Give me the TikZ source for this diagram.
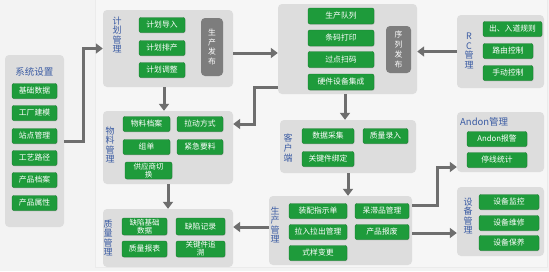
\documentclass[tikz,border=0pt]{standalone}
\usepackage{fontspec}
\setmainfont{Noto Sans CJK SC}
\usetikzlibrary{arrows.meta,calc,shadows}
\definecolor{bg}{HTML}{F3F3F3}
\definecolor{bgin}{HTML}{F6F6F6}
\definecolor{panelc}{HTML}{DDDDDD}
\definecolor{btnc}{HTML}{1E9B3B}
\definecolor{btnd}{HTML}{157A2C}
\definecolor{titlec}{HTML}{3A5BA3}
\definecolor{arrc}{HTML}{6E6E6E}
\definecolor{pubc}{HTML}{7D7D7D}
\tikzset{
  panel/.style={fill=panelc, draw=none, rounded corners=4pt, inner sep=0pt},
  btn/.style={fill=btnc, draw=btnd, line width=0.4pt, rounded corners=2pt, inner sep=0pt,
    text=white, font=\fontsize{7.8}{8.5}\selectfont, align=center, minimum height=15pt,
    drop shadow={opacity=0.25, shadow xshift=0.6pt, shadow yshift=-0.8pt}},
  btntwo/.style={btn, font=\fontsize{7.5}{7.8}\selectfont, minimum height=17pt},
  pub/.style={fill=pubc, draw=none, rounded corners=4pt, inner sep=0pt, text=white,
    font=\fontsize{7.8}{9.8}\selectfont, align=center},
  ttl/.style={text=titlec, font=\fontsize{9.5}{11}\selectfont, inner sep=0pt},
  vttl/.style={text=titlec, font=\fontsize{9}{9.6}\selectfont, align=center, inner sep=0pt},
  arr/.style={draw=arrc, line width=3pt, -{Triangle[width=10pt,length=7pt]}}
}
\begin{document}
\begin{tikzpicture}[x=1pt,y=-1pt]
\useasboundingbox (0,0) rectangle (549,271);
\fill[bg] (0,0) rectangle (549,271);
\draw[draw=black!8, fill=bgin] (95,-2) rectangle (547,267);

% panels
\node[panel, minimum width=59pt, minimum height=172pt] (sys) at (34.5,141) {};
\node[panel, minimum width=130pt, minimum height=77pt] (plan) at (168,48.5) {};
\node[panel, minimum width=139pt, minimum height=90pt] (seq) at (347.5,49) {};
\node[panel, minimum width=87pt, minimum height=73pt] (rc) at (500.5,51.5) {};
\node[panel, minimum width=130pt, minimum height=73pt] (mat) at (168,147.5) {};
\node[panel, minimum width=136pt, minimum height=53pt] (cli) at (348,146.5) {};
\node[panel, minimum width=87pt, minimum height=60pt] (andon) at (500.5,142) {};
\node[panel, minimum width=130pt, minimum height=58pt] (qual) at (168,238) {};
\node[panel, minimum width=143pt, minimum height=69pt] (prod) at (340.5,230.5) {};
\node[panel, minimum width=87pt, minimum height=69pt] (equip) at (500.5,221.5) {};

% titles
\node[ttl] (tsys) at (34.5,72) {系统设置};
\node[vttl] (tplan) at (117,35) {计\\划\\管\\理};
\node[vttl] (tmat) at (110,145) {物\\料\\管\\理};
\node[vttl] (tcli) at (288,148) {客\\户\\端};
\node[vttl] (tprod) at (275,225) {生\\产\\管\\理};
\node[vttl] (tqual) at (108,238) {质\\量\\管\\理};
\node[vttl] (tequip) at (468,216) {设\\备\\管\\理};
\node[vttl] (trc) at (469,51) {R\\C\\管\\理};
\node[ttl, anchor=west] (tandon) at (460,122) {Andon管理};

% system buttons
\node[btn, minimum width=45pt] (s1) at (34.5,91) {基础数据};
\node[btn, minimum width=45pt] (s2) at (34.5,113) {工厂建模};
\node[btn, minimum width=45pt] (s3) at (34.5,136) {站点管理};
\node[btn, minimum width=45pt] (s4) at (34.5,158) {工艺路径};
\node[btn, minimum width=45pt] (s5) at (34.5,180) {产品档案};
\node[btn, minimum width=45pt] (s6) at (34.5,203) {产品属性};

% plan
\node[btn, minimum width=46pt] (p1) at (162,25) {计划导入};
\node[btn, minimum width=46pt] (p2) at (162,48) {计划排产};
\node[btn, minimum width=46pt] (p3) at (162,70) {计划调整};
\node[pub, minimum width=22pt, minimum height=58pt] (ppub) at (212,47) {生\\产\\发\\布};

% seq
\node[btn, minimum width=66pt, minimum height=16pt] (q1) at (341,16) {生产队列};
\node[btn, minimum width=66pt, minimum height=16pt] (q2) at (341,38) {条码打印};
\node[btn, minimum width=66pt, minimum height=16pt] (q3) at (341,59.5) {过点扫码};
\node[btn, minimum width=66pt, minimum height=16pt] (q4) at (341,82) {硬件设备集成};
\node[pub, minimum width=25pt, minimum height=47pt] (qpub) at (398.5,49.5) {序\\列\\发\\布};

% rc
\node[btn, minimum width=59pt] (r1) at (512.5,29) {出、入道规则};
\node[btn, minimum width=50pt] (r2) at (508,51) {路由控制};
\node[btn, minimum width=50pt] (r3) at (508,73) {手动控制};

% material
\node[btn, minimum width=47pt] (m1) at (146.5,124) {物料档案};
\node[btn, minimum width=46pt] (m2) at (200,124) {拉动方式};
\node[btn, minimum width=47pt] (m3) at (146.5,147) {组单};
\node[btn, minimum width=46pt] (m4) at (200,147) {紧急要料};
\node[btntwo, minimum width=47pt] (m5) at (148.5,170.5) {供应商切\\换};

% client
\node[btn, minimum width=52pt] (c1) at (328,136) {数据采集};
\node[btn, minimum width=45pt] (c2) at (385.5,136) {质量录入};
\node[btn, minimum width=52pt] (c3) at (328,159) {关键件绑定};

% andon
\node[btn, minimum width=60pt] (a1) at (497,139) {Andon报警};
\node[btn, minimum width=60pt] (a2) at (497,160) {停线统计};

% quality
\node[btntwo, minimum width=45pt] (u1) at (144.5,226.5) {缺陷基础\\数据};
\node[btn, minimum width=49pt, minimum height=17pt] (u2) at (200.5,226.5) {缺陷记录};
\node[btn, minimum width=45pt, minimum height=16pt] (u3) at (144.5,249) {质量报表};
\node[btntwo, minimum width=49pt, minimum height=16pt] (u4) at (200.5,249) {关键件追\\溯};

% production
\node[btn, minimum width=58pt] (d1) at (318,211) {装配指示单};
\node[btn, minimum width=54pt] (d2) at (382,211) {呆滞品管理};
\node[btn, minimum width=58pt] (d3) at (318,232) {拉入拉出管理};
\node[btn, minimum width=54pt] (d4) at (382,232) {产品报废};
\node[btn, minimum width=58pt] (d5) at (318,253) {式样变更};

% equipment
\node[btn, minimum width=60pt] (e1) at (509,202) {设备监控};
\node[btn, minimum width=60pt] (e2) at (509,223) {设备维修};
\node[btn, minimum width=60pt] (e3) at (509,243) {设备保养};

% helper coordinates
\coordinate (y53) at (0,53);
\coordinate (y87) at (0,87);
\coordinate (y124) at (0,124);
\coordinate (y227) at (0,227);
\coordinate (y205) at (0,205);
\coordinate (y167) at (0,167);
\coordinate (y233) at (0,233);
\coordinate (x164) at (164,0);
\coordinate (x345) at (345,0);

% connectors
\draw[arr] (sys.east) -- ++(19,0) |- (plan.west);
\draw[arr] (plan.east |- y53) -- (seq.west |- y53);
\draw[arr] (x164 |- plan.south) -- (x164 |- mat.north);
\draw[arr] (seq.west |- y87) -- ++(-23,0) |- (mat.east |- y124);
\draw[arr] (rc.west) -- (rc.west -| seq.east);
\draw[arr] (x345 |- seq.south) -- (x345 |- cli.north);
\draw[arr] (mat.south) -- (qual.north);
\draw[arr] (cli.south) -- (cli.south |- prod.north);
\draw[arr] (prod.west |- y227) -- (qual.east |- y227);
\draw[arr] (prod.east |- y205) -- ++(25,0) |- (andon.west |- y167);
\draw[arr] (prod.east |- y233) -- (equip.west |- y233);
\end{tikzpicture}
\end{document}
